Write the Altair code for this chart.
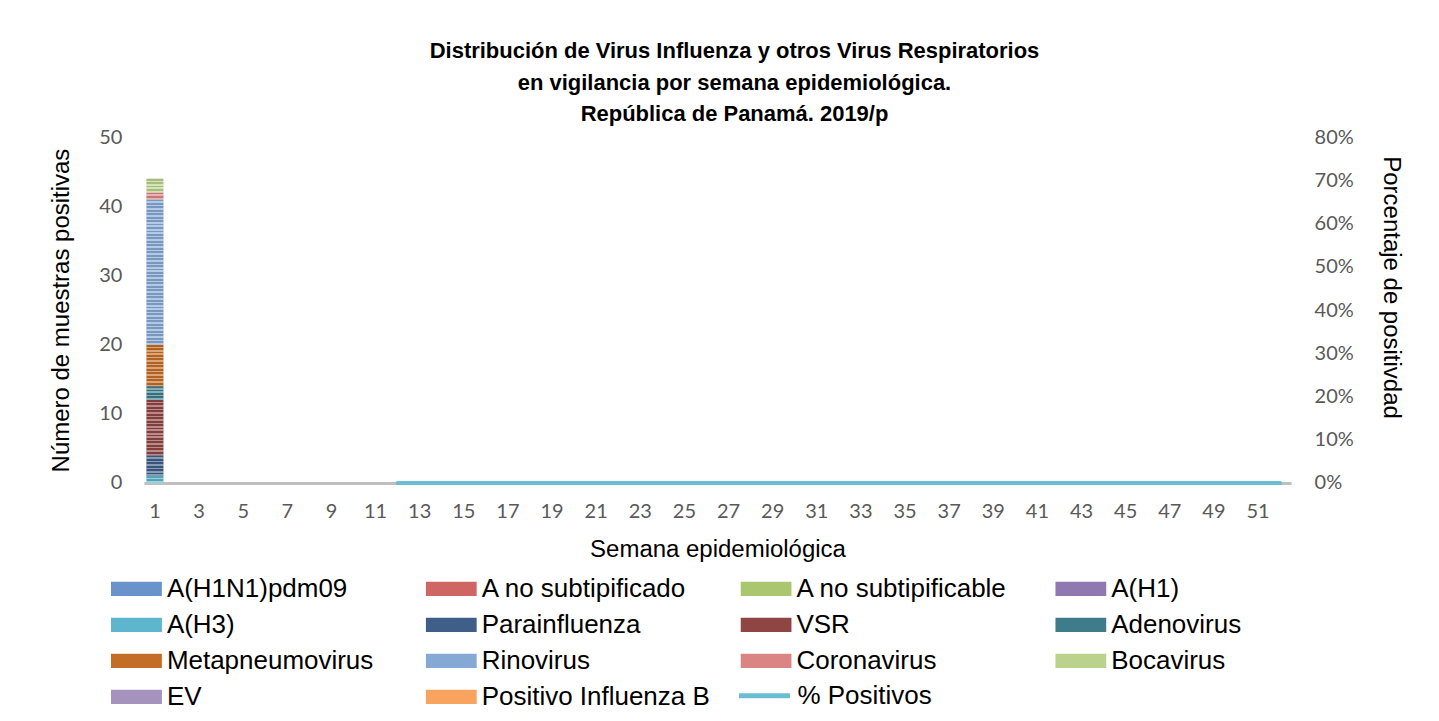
import altair as alt
import pandas as pd

# ---------------- data ----------------
semanas = list(range(1, 53))

series = [
    "A(H1N1)pdm09", "A no subtipificado", "A no subtipificable", "A(H1)",
    "A(H3)", "Parainfluenza", "VSR", "Adenovirus",
    "Metapneumovirus", "Rinovirus", "Coronavirus", "Bocavirus",
    "EV", "Positivo Influenza  B",
]
colores = [
    "#6A93CB", "#D06663", "#AAC66F", "#9079B0",
    "#5DB6CE", "#3F5F88", "#8E4543", "#3F7C8B",
    "#C46D26", "#86A8D4", "#DA8583", "#BAD28C",
    "#A593BE", "#F8A35E",
]
# positive samples in week 1 (other weeks have none)
muestras_semana_1 = [0, 0, 0, 0, 1, 3, 8, 2, 6, 21, 1, 2, 0, 0]

linea_nombre = "% Positivos"
linea_color = "#6BBDD1"
pct_positivos = [
    None, None, None, None, None, None, None, None, None, None, None,
    0.0, 0.0, 0.0, 0.0, 0.0, 0.0, 0.0, 0.0, 0.0, 0.0, 0.0, 0.0, 0.0,
    0.0, 0.0, 0.0, 0.0, 0.0, 0.0, 0.0, 0.0, 0.0, 0.0, 0.0, 0.0, 0.0,
    0.0, 0.0, 0.0, 0.0, 0.0, 0.0, 0.0, 0.0, 0.0, 0.0, 0.0, 0.0, 0.0,
    0.0, 0.0,
]

titulo = [
    "Distribución de Virus Influenza y otros Virus Respiratorios",
    "en vigilancia por semana epidemiológica.",
    "República de Panamá. 2019/p",
]

# ---------------- tables ----------------
df_bar = pd.DataFrame({
    "semana": [1] * len(series),
    "serie": series,
    "valor": muestras_semana_1,
    "orden": list(range(len(series))),
})
df_line = pd.DataFrame({
    "semana": semanas,
    "pct": pct_positivos,
    "linea": [linea_nombre] * len(semanas),
})

TICK_FONT = "Lato"
TEXT_FONT = "Liberation Sans"

x_scale = alt.Scale(domain=semanas, paddingInner=0.23, paddingOuter=0.115)
y_scale = alt.Scale(domain=[0, 50], nice=False)
no_frame = alt.ViewBackground(stroke="transparent", strokeWidth=0)

legend_common = dict(
    title=None,
    orient="none",
    labelFont=TEXT_FONT,
    labelFontSize=26,
    labelColor="#000000",
    labelLimit=400,
    labelOffset=5,
    symbolSize=2601,
    clipHeight=36,
)

bar_legend = alt.Legend(
    legendX=-33,
    legendY=434,
    direction="horizontal",
    columns=4,
    gridAlign="all",
    columnPadding=23,
    rowPadding=0,
    symbolType="M-1,-0.28H1V0.28H-1Z",
    symbolStrokeWidth=0,
    symbolOpacity=1,
    **legend_common,
)
line_legend = alt.Legend(
    legendX=593,
    legendY=541,
    symbolType="stroke",
    symbolStrokeWidth=5,
    **legend_common,
)

x_axis = alt.Axis(
    title="Semana epidemiológica",
    labelAngle=0,
    labelExpr="datum.value % 2 == 1 ? datum.label : ''",
    ticks=False,
    grid=False,
    domainColor="#BFBFBF",
    domainWidth=3,
    labelFont=TICK_FONT,
    labelFontSize=20,
    labelColor="#595959",
    labelPadding=19,
    titleFont=TEXT_FONT,
    titleFontSize=24,
    titleFontWeight="normal",
    titleColor="#000000",
    titlePadding=16,
)

y_axis = alt.Axis(
    title="Número de muestras positivas",
    values=[0, 10, 20, 30, 40, 50],
    grid=False,
    domain=False,
    ticks=False,
    labelFont=TICK_FONT,
    labelFontSize=20,
    labelColor="#595959",
    labelPadding=22,
    titleFont=TEXT_FONT,
    titleFontSize=24,
    titleFontWeight="normal",
    titleColor="#000000",
    titlePadding=25,
)

bars = alt.Chart(df_bar).mark_bar().encode(
    x=alt.X("semana:O", scale=x_scale, axis=x_axis),
    y=alt.Y("valor:Q", stack="zero", scale=y_scale, axis=y_axis),
    color=alt.Color("serie:N", scale=alt.Scale(domain=series, range=colores), legend=bar_legend),
    order=alt.Order("orden:Q", sort="ascending"),
)


def stripes(n):
    """Horizontal-stripe pattern (Excel style) as a vertical linear gradient with n stripes."""
    stops = []
    for k in range(n):
        a = k / n
        m = (k + 0.55) / n
        b = (k + 1) / n
        stops += [
            alt.GradientStop(color="rgba(0,0,0,0.10)", offset=a),
            alt.GradientStop(color="rgba(0,0,0,0.10)", offset=m),
            alt.GradientStop(color="rgba(255,255,255,0.38)", offset=m),
            alt.GradientStop(color="rgba(255,255,255,0.38)", offset=b),
        ]
    return alt.Gradient(gradient="linear", stops=stops, x1=0, x2=0, y1=0, y2=1)


stacked = alt.Chart(df_bar).transform_stack(
    stack="valor",
    groupby=["semana"],
    sort=[alt.SortField("orden", order="ascending")],
    as_=["y0", "y1"],
)

stripe_layers = []
for v in sorted(set(muestras_semana_1) - {0}):
    stripe_layers.append(
        stacked.transform_filter(alt.datum.valor == v)
        .mark_bar(fill=stripes(2 * v), strokeWidth=0)
        .encode(
            x=alt.X("semana:O", scale=x_scale, axis=x_axis),
            y=alt.Y("y0:Q", scale=y_scale, axis=y_axis),
            y2="y1:Q",
        )
    )

bar_group = alt.layer(bars, *stripe_layers).properties(view=no_frame)

line = alt.Chart(df_line).mark_line(strokeWidth=4, strokeCap="round").encode(
    x=alt.X("semana:O", scale=x_scale, axis=x_axis),
    y=alt.Y(
        "pct:Q",
        scale=alt.Scale(domain=[0, 0.8], nice=False),
        axis=alt.Axis(
            orient="right",
            title="Porcentaje de positivdad",
            format=".0%",
            values=[0, 0.1, 0.2, 0.3, 0.4, 0.5, 0.6, 0.7, 0.8],
            grid=False,
            domain=False,
            ticks=False,
            labelFont=TICK_FONT,
            labelFontSize=20,
            labelColor="#595959",
            labelPadding=23,
            titleFont=TEXT_FONT,
            titleFontSize=24,
            titleFontWeight="normal",
            titleColor="#000000",
            titlePadding=25,
            titleY=150,
        ),
    ),
    color=alt.Color("linea:N", scale=alt.Scale(domain=[linea_nombre], range=[linea_color]), legend=line_legend),
)

chart = (
    alt.layer(bar_group, line)
    .resolve_scale(y="independent", color="independent")
    .properties(
        width=1148,
        height=346,
        view=no_frame,
        padding={"left": 136, "top": 129, "right": 140, "bottom": 236},
        autosize=alt.AutoSizeParams(type="none"),
        title=alt.TitleParams(
            text=titulo,
            font=TEXT_FONT,
            fontSize=22,
            fontWeight="bold",
            color="#000000",
            anchor="middle",
            lineHeight=31.5,
            offset=1,
            dx=17,
        ),
    )
    .configure_view(stroke="transparent", strokeWidth=0, strokeOpacity=0)
    .configure_axis(grid=False)
    .configure(background="#FFFFFF")
)

chart.save("out.html", embed_options={"renderer": "svg", "actions": False})
